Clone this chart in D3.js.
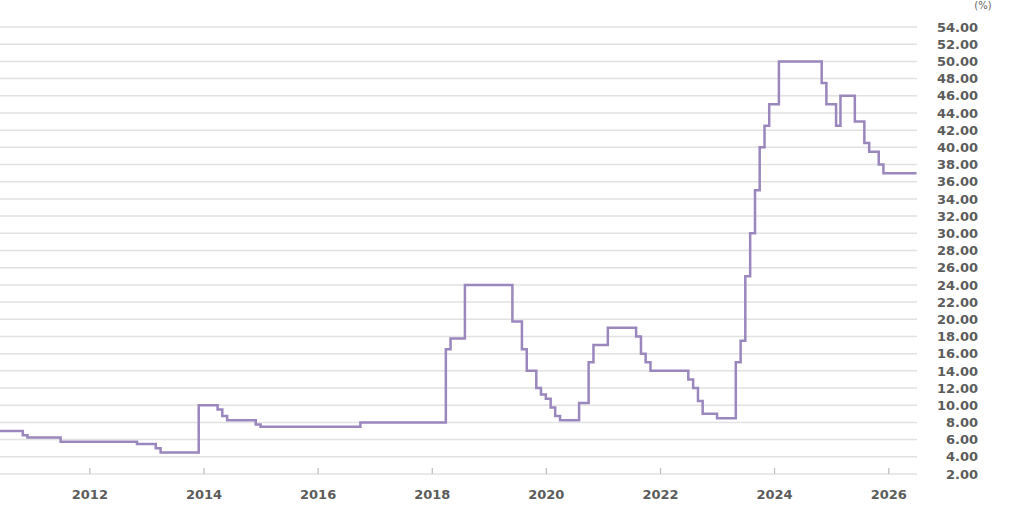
<!DOCTYPE html>
<html>
<head>
<meta charset="utf-8">
<script src="https://cdn.jsdelivr.net/npm/d3@7"></script>
<style>
  html, body { margin: 0; padding: 0; background: #fff; }
  svg { display: block; }
</style>
</head>
<body>
<svg id="chart" width="1024" height="523"></svg>
<script>
// Month of each change (as plotted) and the new rate level (%)
const changeMonths = [
  "2010-06","2010-11","2010-12","2011-07","2012-11","2013-03","2013-04","2013-12",
  "2014-04","2014-05","2014-06","2014-12","2015-01","2016-10","2018-04","2018-05",
  "2018-08","2019-06","2019-08","2019-09","2019-11","2019-12","2020-01","2020-02",
  "2020-03","2020-04","2020-08","2020-10","2020-11","2021-02","2021-08","2021-09",
  "2021-10","2021-11","2022-07","2022-08","2022-09","2022-10","2023-01","2023-05",
  "2023-06","2023-07","2023-08","2023-09","2023-10","2023-11","2023-12","2024-02",
  "2024-11","2024-12","2025-02","2025-03","2025-06","2025-08","2025-09","2025-11",
  "2025-12","2026-07"
];
const rateValues = [
  7.00, 6.50, 6.25, 5.75, 5.50, 5.00, 4.50, 10.00,
  9.50, 8.75, 8.25, 7.75, 7.50, 8.00, 16.50, 17.75,
  24.00, 19.75, 16.50, 14.00, 12.00, 11.25, 10.75, 9.75,
  8.75, 8.25, 10.25, 15.00, 17.00, 19.00, 18.00, 16.00,
  15.00, 14.00, 13.00, 12.00, 10.50, 9.00, 8.50, 15.00,
  17.50, 25.00, 30.00, 35.00, 40.00, 42.50, 45.00, 50.00,
  47.50, 45.00, 42.50, 46.00, 43.00, 40.50, 39.50, 38.00,
  37.00, 37.00
];
const yTickValues = d3.range(2, 55, 2);
const xTickYears = [2012, 2014, 2016, 2018, 2020, 2022, 2024, 2026];
const unitLabel = "(%)";

const parseMonth = d3.timeParse("%Y-%m");
const data = changeMonths.map((m, i) => ({ date: parseMonth(m), value: rateValues[i] }));

const svg = d3.select("#chart");
const plot = { left: 0, right: 917, top: 27, bottom: 474 };

const x = d3.scaleTime()
  .domain([new Date(2010, 5, 8), new Date(2026, 6, 4)])
  .range([plot.left, plot.right]);
const y = d3.scaleLinear().domain([2, 54]).range([plot.bottom, plot.top]);

const fontFam = "'DejaVu Sans', Verdana, sans-serif";

// Grid lines
svg.append("g")
  .selectAll("line")
  .data(yTickValues)
  .join("line")
  .attr("x1", plot.left)
  .attr("x2", plot.right)
  .attr("y1", d => y(d))
  .attr("y2", d => y(d))
  .attr("stroke", "#e2e2e2")
  .attr("stroke-width", 1.5);

// Y labels (right side)
svg.append("g")
  .selectAll("text")
  .data(yTickValues)
  .join("text")
  .attr("x", 978)
  .attr("y", d => y(d))
  .attr("dy", "0.36em")
  .attr("text-anchor", "end")
  .attr("font-family", fontFam)
  .attr("font-weight", "bold")
  .attr("font-size", "13px")
  .attr("fill", "#5c5c5c")
  .text(d => d.toFixed(2));

svg.append("text")
  .attr("x", 983)
  .attr("y", 9)
  .attr("text-anchor", "middle")
  .attr("font-family", fontFam)
  .attr("font-size", "10px")
  .attr("fill", "#666")
  .text(unitLabel);

// X axis ticks and labels
const xTicks = xTickYears.map(yr => new Date(yr, 0, 1));
const xAxis = d3.axisBottom(x)
  .tickValues(xTicks)
  .tickSize(-6)
  .tickFormat(d3.timeFormat("%Y"));
const gx = svg.append("g")
  .attr("transform", `translate(0,${plot.bottom})`)
  .call(xAxis);
gx.select(".domain").remove();
gx.selectAll(".tick line").attr("stroke", "#bdbdbd").attr("stroke-width", 1.2);
gx.selectAll(".tick text")
  .attr("y", 25)
  .attr("dy", 0)
  .attr("font-family", fontFam)
  .attr("font-weight", "bold")
  .attr("font-size", "13px")
  .attr("fill", "#5c5c5c");

// Clip
svg.append("clipPath").attr("id", "clip")
  .append("rect")
  .attr("x", plot.left).attr("y", 0)
  .attr("width", plot.right - plot.left).attr("height", plot.bottom + 2);

const line = d3.line()
  .x(d => x(d.date))
  .y(d => y(d.value))
  .curve(d3.curveStepAfter);

svg.append("path")
  .datum(data)
  .attr("clip-path", "url(#clip)")
  .attr("fill", "none")
  .attr("stroke", "#9a87bd")
  .attr("stroke-width", 2.5)
  .attr("stroke-linejoin", "miter")
  .attr("d", line);
</script>
</body>
</html>
